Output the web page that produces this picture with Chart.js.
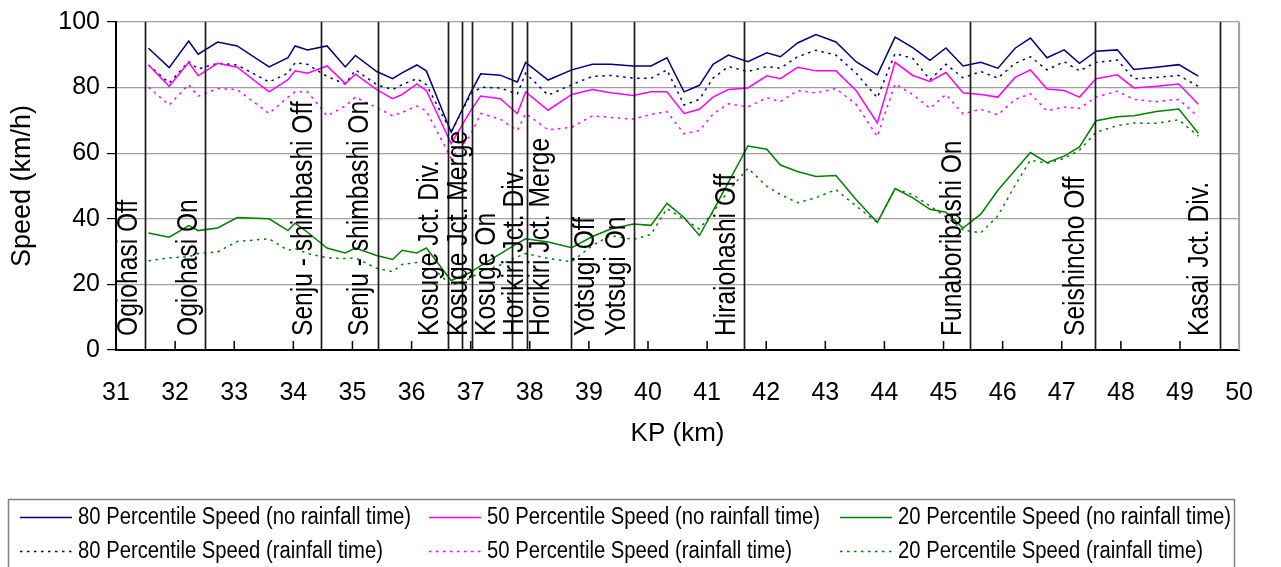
<!DOCTYPE html>
<html>
<head>
<meta charset="utf-8">
<script src="https://cdn.jsdelivr.net/npm/chart.js@4.4.0/dist/chart.umd.min.js"></script>
<style>
  html, body { margin: 0; padding: 0; background: #fff; }
</style>
</head>
<body>
<canvas id="myChart" width="1281" height="567"></canvas>
<script>
// KP positions of the measurement points (km)
const kp = [31.55, 31.90, 32.23, 32.39, 32.72, 33.05, 33.59, 33.91, 34.03, 34.24,
            34.57, 34.88, 35.05, 35.41, 35.68, 35.84, 36.09, 36.25, 36.67, 37.00,
            37.17, 37.50, 37.79, 37.93, 38.31, 38.71, 39.06, 39.37, 39.75, 40.05,
            40.32, 40.61, 40.87, 41.10, 41.36, 41.69, 42.01, 42.24, 42.53, 42.84,
            43.18, 43.52, 43.88, 44.18, 44.48, 44.77, 45.04, 45.33, 45.63, 45.92,
            46.21, 46.47, 46.75, 47.04, 47.30, 47.58, 47.94, 48.22, 48.60, 48.98, 49.31];

const p80Dry = [92.0, 86.1, 94.2, 90.2, 93.9, 92.7, 86.3, 89.1, 92.7, 91.5,
                92.7, 86.3, 89.8, 84.9, 82.7, 84.5, 86.9, 85.1, 66.4, 78.5,
                84.2, 83.8, 81.7, 87.7, 82.3, 85.4, 87.1, 87.1, 86.6, 86.6,
                89.1, 78.7, 80.7, 87.1, 89.9, 87.9, 90.6, 89.4, 93.6, 96.2,
                93.9, 87.9, 83.9, 95.4, 92.2, 88.3, 92.1, 86.6, 87.7, 85.9,
                92.0, 95.1, 89.1, 91.5, 87.4, 91.1, 91.5, 85.5, 86.2, 87.0, 83.5];

const p80Wet = [86.9, 81.4, 87.9, 85.7, 87.4, 86.9, 81.7, 84.4, 87.6, 87.1,
                83.4, 81.1, 85.4, 80.9, 79.4, 80.9, 82.7, 80.9, 66.5, 77.9,
                80.1, 79.9, 78.1, 84.4, 77.7, 80.9, 83.4, 83.7, 82.9, 82.8,
                85.4, 74.7, 76.4, 82.9, 86.4, 84.9, 86.4, 85.9, 89.4, 91.4,
                89.9, 84.4, 76.9, 90.4, 88.9, 82.4, 87.1, 83.0, 84.9, 82.9,
                87.4, 89.4, 85.4, 87.9, 85.1, 87.7, 88.4, 82.7, 83.1, 83.7, 80.4];

const p50Dry = [86.9, 80.4, 87.7, 83.6, 87.4, 86.2, 78.7, 82.4, 85.1, 84.4,
                86.6, 81.2, 84.1, 79.4, 76.6, 77.9, 81.1, 79.1, 62.9, 73.0,
                77.4, 76.6, 72.1, 78.7, 73.1, 77.9, 79.4, 78.4, 77.6, 78.7,
                78.7, 72.1, 73.4, 77.1, 79.4, 79.9, 83.6, 82.7, 86.2, 85.1,
                85.1, 79.1, 69.2, 87.7, 83.7, 81.9, 84.6, 78.4, 77.9, 77.1,
                83.1, 85.4, 79.6, 79.1, 77.1, 82.7, 83.9, 79.9, 80.4, 81.1, 74.9];

const p50Wet = [80.1, 74.7, 80.9, 77.4, 79.7, 79.4, 72.1, 77.1, 78.7, 78.7,
                71.4, 74.4, 77.1, 73.9, 71.4, 72.4, 74.4, 72.9, 58.4, 65.5,
                72.1, 70.4, 66.9, 72.1, 67.1, 67.9, 71.4, 70.9, 70.4, 71.8,
                72.7, 65.9, 66.9, 71.9, 75.1, 74.1, 76.9, 75.7, 79.1, 78.4,
                79.7, 74.9, 65.1, 81.1, 77.9, 73.7, 77.9, 72.0, 73.4, 71.7,
                76.4, 78.1, 72.9, 74.1, 73.7, 77.1, 78.9, 76.4, 75.7, 76.4, 71.1];

const p20Dry = [35.7, 34.4, 37.9, 36.4, 37.2, 40.4, 40.0, 36.4, 38.7, 35.9,
                31.1, 29.6, 31.1, 28.8, 27.6, 30.4, 29.6, 31.1, 21.2, 23.7,
                25.7, 29.3, 32.5, 33.9, 32.9, 31.2, 34.6, 36.9, 38.4, 38.0,
                44.7, 40.4, 34.9, 42.4, 51.1, 62.2, 61.2, 56.4, 54.4, 52.9,
                53.2, 45.9, 38.9, 49.2, 46.4, 42.9, 42.0, 37.2, 41.4, 48.7,
                54.8, 60.2, 57.1, 59.1, 61.9, 69.9, 71.1, 71.4, 72.7, 73.5, 66.1];

const p20Wet = [27.2, 28.1, 28.4, 29.4, 29.9, 33.1, 33.9, 30.4, 30.9, 29.4,
                28.1, 27.9, 28.1, 24.9, 23.9, 26.1, 26.7, 26.9, 19.7, 21.9,
                23.9, 25.9, 28.4, 29.4, 27.9, 26.9, 31.9, 34.9, 33.7, 35.2,
                43.1, 39.9, 36.9, 42.0, 48.5, 55.4, 49.9, 47.4, 44.9, 46.4,
                48.9, 43.9, 38.9, 49.1, 47.4, 43.9, 40.6, 36.6, 35.7, 40.9,
                50.2, 57.9, 56.9, 58.4, 60.9, 66.4, 68.4, 69.2, 69.1, 70.2, 65.2];

// on/off ramps and junctions
const rampKp = [31.49, 32.50, 34.46, 35.43, 36.62, 36.86, 37.02, 37.70, 37.96,
                38.69, 39.77, 41.63, 45.44, 47.56, 49.67];
const rampNames = ['Ogiohasi Off', 'Ogiohasi On', 'Senju - shimbashi Off', 'Senju - shimbashi On',
                   'Kosuge Jct. Div.', 'Kosuge Jct. Merge', 'Kosuge On', 'Horikiri Jct. Div.',
                   'Horikiri Jct. Merge', 'Yotsugi Off', 'Yotsugi On', 'Hiraiohashi Off',
                   'Funaboribashi On', 'Seishincho Off', 'Kasai Jct. Div.'];
const rampLabelKp = [31.21, 32.23, 34.17, 35.13, 36.31, 36.79, 37.27, 37.74, 38.19,
                     38.95, 39.47, 41.34, 45.15, 47.24, 49.34];

const seriesNames = ['80 Percentile Speed (no rainfall time)', '50 Percentile Speed (no rainfall time)',
                     '20 Percentile Speed (no rainfall time)', '80 Percentile Speed (rainfall time)',
                     '50 Percentile Speed (rainfall time)', '20 Percentile Speed (rainfall time)'];

const FONT = "'Liberation Sans', Arial, sans-serif";
const NARROW = 0.82;   // the original text is set in a condensed face
Chart.defaults.font.family = FONT;
Chart.defaults.color = '#000';

function pts(vals) {
    return vals.map((v, i) => ({x: kp[i], y: v}));
}

let seriesValues = [p80Dry, p50Dry, p20Dry, p80Wet, p50Wet, p20Wet];
let seriesColors = ['#000080', '#ff00ff', '#008000', '#000080', '#ff00ff', '#008000'];

let datasets = seriesValues.map((vals, i) => ({
    label: seriesNames[i],
    data: pts(vals),
    borderColor: seriesColors[i],
    borderWidth: 1.5,
    borderDash: i >= 3 ? [2.5, 4.5] : [],
    pointRadius: 0,
    tension: 0,
    fill: false
}));

const overlay = {
    id: 'overlay',
    afterDatasetsDraw(chart) {
        const {ctx, chartArea: a, scales: {x}} = chart;
        ctx.save();
        ctx.strokeStyle = '#a0a0a0';
        ctx.lineWidth = 2;
        ctx.beginPath();
        ctx.moveTo(a.right, a.top);
        ctx.lineTo(a.right, a.bottom);
        ctx.stroke();

        ctx.strokeStyle = '#000';
        ctx.lineWidth = 1.5;
        for (let v = 32; v < 50; v++) {
            const px = x.getPixelForValue(v);
            ctx.beginPath();
            ctx.moveTo(px, a.bottom);
            ctx.lineTo(px, a.bottom - 9);
            ctx.stroke();
        }

        ctx.strokeStyle = '#1a1a1a';
        ctx.lineWidth = 1.7;
        rampKp.forEach(k => {
            const px = Math.round(x.getPixelForValue(k)) + 0.5;
            ctx.beginPath();
            ctx.moveTo(px, a.top);
            ctx.lineTo(px, a.bottom);
            ctx.stroke();
        });

        ctx.fillStyle = '#000';
        ctx.font = '30px ' + FONT;
        ctx.textBaseline = 'middle';
        ctx.textAlign = 'left';
        rampLabelKp.forEach((k, i) => {
            const px = x.getPixelForValue(k);
            ctx.save();
            ctx.translate(px, 336);
            ctx.rotate(-Math.PI / 2);
            ctx.scale(NARROW, 1);
            ctx.fillText(rampNames[i], 0, 0);
            ctx.restore();
        });
        ctx.restore();
    },
    afterDraw(chart) {
        const ctx = chart.ctx;
        ctx.save();
        ctx.strokeStyle = '#808080';
        ctx.lineWidth = 1.5;
        ctx.strokeRect(8.5, 499.5, 1226, 100);
        const colX = [20, 429, 840];
        const rowY = [517, 551];
        ctx.font = '24.7px ' + FONT;
        ctx.textBaseline = 'middle';
        ctx.textAlign = 'left';
        chart.data.datasets.forEach((ds, i) => {
            const lx = colX[i % 3];
            const ly = rowY[Math.floor(i / 3)];
            ctx.strokeStyle = ds.borderColor;
            ctx.lineWidth = 1.5;
            ctx.setLineDash(ds.borderDash);
            ctx.beginPath();
            ctx.moveTo(lx, ly + 0.5);
            ctx.lineTo(lx + 52, ly + 0.5);
            ctx.stroke();
            ctx.setLineDash([]);
            ctx.fillStyle = '#000';
            ctx.save();
            ctx.translate(lx + 58, ly);
            ctx.scale(NARROW, 1);
            ctx.fillText(ds.label, 0, 0);
            ctx.restore();
        });
        ctx.restore();
    }
};

let ctx = document.getElementById('myChart').getContext('2d');

let myChart = new Chart(ctx, {
    type: 'line',
    data: { datasets: datasets },
    options: {
        responsive: false,
        animation: false,
        devicePixelRatio: 1,
        layout: { padding: { left: 0, right: 20, top: 16, bottom: 107 } },
        plugins: { legend: { display: false }, tooltip: { enabled: false } },
        scales: {
            x: {
                type: 'linear',
                min: 31,
                max: 50,
                afterFit: s => { s.height = 110; },
                ticks: { stepSize: 1, autoSkip: false, maxRotation: 0, padding: 28, font: { size: 25 } },
                grid: { display: false, drawTicks: false },
                border: { color: '#000', width: 2 },
                title: { display: true, text: 'KP (km)', font: { size: 26 }, padding: { bottom: 11 } }
            },
            y: {
                min: 0,
                max: 100,
                afterFit: s => { s.width = 116; },
                ticks: { stepSize: 20, padding: 7, font: { size: 25 } },
                grid: { color: '#a0a0a0', tickColor: '#000', tickLength: 9, lineWidth: 1.2 },
                border: { color: '#000', width: 2 },
                title: { display: true, text: 'Speed (km/h)', font: { size: 27 }, padding: { top: 6 } }
            }
        }
    },
    plugins: [overlay]
});
</script>
</body>
</html>
